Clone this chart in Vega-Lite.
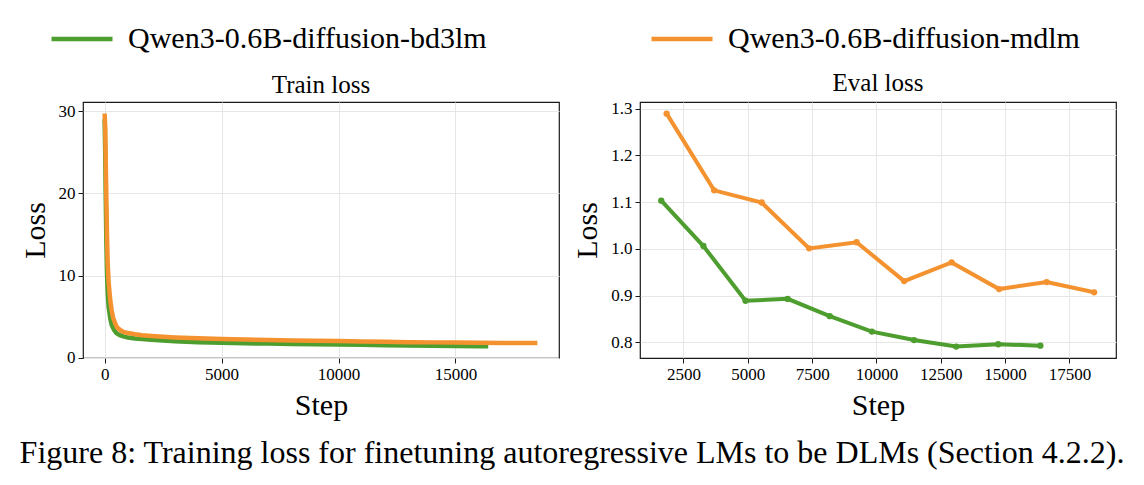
{
  "$schema": "https://vega.github.io/schema/vega-lite/v6.json",
  "background": "white",
  "padding": {"left": 19, "top": 6, "right": 10, "bottom": 10},
  "datasets": {
    "train": [
      {"model": "Qwen3-0.6B-diffusion-bd3lm", "step": 0, "loss": 29.0},
      {"model": "Qwen3-0.6B-diffusion-bd3lm", "step": 25, "loss": 25.0},
      {"model": "Qwen3-0.6B-diffusion-bd3lm", "step": 50, "loss": 19.0},
      {"model": "Qwen3-0.6B-diffusion-bd3lm", "step": 75, "loss": 14.0},
      {"model": "Qwen3-0.6B-diffusion-bd3lm", "step": 100, "loss": 10.5},
      {"model": "Qwen3-0.6B-diffusion-bd3lm", "step": 130, "loss": 8.0},
      {"model": "Qwen3-0.6B-diffusion-bd3lm", "step": 170, "loss": 6.2},
      {"model": "Qwen3-0.6B-diffusion-bd3lm", "step": 240, "loss": 4.8},
      {"model": "Qwen3-0.6B-diffusion-bd3lm", "step": 300, "loss": 4.0},
      {"model": "Qwen3-0.6B-diffusion-bd3lm", "step": 400, "loss": 3.4},
      {"model": "Qwen3-0.6B-diffusion-bd3lm", "step": 500, "loss": 3.0},
      {"model": "Qwen3-0.6B-diffusion-bd3lm", "step": 650, "loss": 2.75},
      {"model": "Qwen3-0.6B-diffusion-bd3lm", "step": 800, "loss": 2.6},
      {"model": "Qwen3-0.6B-diffusion-bd3lm", "step": 1000, "loss": 2.45},
      {"model": "Qwen3-0.6B-diffusion-bd3lm", "step": 1300, "loss": 2.35},
      {"model": "Qwen3-0.6B-diffusion-bd3lm", "step": 1600, "loss": 2.28},
      {"model": "Qwen3-0.6B-diffusion-bd3lm", "step": 2000, "loss": 2.2},
      {"model": "Qwen3-0.6B-diffusion-bd3lm", "step": 2500, "loss": 2.1},
      {"model": "Qwen3-0.6B-diffusion-bd3lm", "step": 3000, "loss": 2.02},
      {"model": "Qwen3-0.6B-diffusion-bd3lm", "step": 4000, "loss": 1.9},
      {"model": "Qwen3-0.6B-diffusion-bd3lm", "step": 5000, "loss": 1.82},
      {"model": "Qwen3-0.6B-diffusion-bd3lm", "step": 6000, "loss": 1.76},
      {"model": "Qwen3-0.6B-diffusion-bd3lm", "step": 7000, "loss": 1.72},
      {"model": "Qwen3-0.6B-diffusion-bd3lm", "step": 8000, "loss": 1.68},
      {"model": "Qwen3-0.6B-diffusion-bd3lm", "step": 9000, "loss": 1.65},
      {"model": "Qwen3-0.6B-diffusion-bd3lm", "step": 10000, "loss": 1.62},
      {"model": "Qwen3-0.6B-diffusion-bd3lm", "step": 11000, "loss": 1.57},
      {"model": "Qwen3-0.6B-diffusion-bd3lm", "step": 12000, "loss": 1.53},
      {"model": "Qwen3-0.6B-diffusion-bd3lm", "step": 13000, "loss": 1.5},
      {"model": "Qwen3-0.6B-diffusion-bd3lm", "step": 14000, "loss": 1.46},
      {"model": "Qwen3-0.6B-diffusion-bd3lm", "step": 15000, "loss": 1.43},
      {"model": "Qwen3-0.6B-diffusion-bd3lm", "step": 16000, "loss": 1.4},
      {"model": "Qwen3-0.6B-diffusion-bd3lm", "step": 16400, "loss": 1.39},
      {"model": "Qwen3-0.6B-diffusion-mdlm", "step": 0, "loss": 29.7},
      {"model": "Qwen3-0.6B-diffusion-mdlm", "step": 25, "loss": 28.0},
      {"model": "Qwen3-0.6B-diffusion-mdlm", "step": 50, "loss": 23.5},
      {"model": "Qwen3-0.6B-diffusion-mdlm", "step": 75, "loss": 19.0},
      {"model": "Qwen3-0.6B-diffusion-mdlm", "step": 100, "loss": 15.0},
      {"model": "Qwen3-0.6B-diffusion-mdlm", "step": 130, "loss": 11.5},
      {"model": "Qwen3-0.6B-diffusion-mdlm", "step": 170, "loss": 9.2},
      {"model": "Qwen3-0.6B-diffusion-mdlm", "step": 240, "loss": 7.0},
      {"model": "Qwen3-0.6B-diffusion-mdlm", "step": 300, "loss": 5.8},
      {"model": "Qwen3-0.6B-diffusion-mdlm", "step": 360, "loss": 4.9},
      {"model": "Qwen3-0.6B-diffusion-mdlm", "step": 450, "loss": 4.2},
      {"model": "Qwen3-0.6B-diffusion-mdlm", "step": 530, "loss": 3.7},
      {"model": "Qwen3-0.6B-diffusion-mdlm", "step": 650, "loss": 3.4},
      {"model": "Qwen3-0.6B-diffusion-mdlm", "step": 800, "loss": 3.15},
      {"model": "Qwen3-0.6B-diffusion-mdlm", "step": 1000, "loss": 3.0},
      {"model": "Qwen3-0.6B-diffusion-mdlm", "step": 1300, "loss": 2.85},
      {"model": "Qwen3-0.6B-diffusion-mdlm", "step": 1600, "loss": 2.75},
      {"model": "Qwen3-0.6B-diffusion-mdlm", "step": 2000, "loss": 2.65},
      {"model": "Qwen3-0.6B-diffusion-mdlm", "step": 2500, "loss": 2.55},
      {"model": "Qwen3-0.6B-diffusion-mdlm", "step": 3000, "loss": 2.47},
      {"model": "Qwen3-0.6B-diffusion-mdlm", "step": 4000, "loss": 2.36},
      {"model": "Qwen3-0.6B-diffusion-mdlm", "step": 5000, "loss": 2.27},
      {"model": "Qwen3-0.6B-diffusion-mdlm", "step": 6000, "loss": 2.21},
      {"model": "Qwen3-0.6B-diffusion-mdlm", "step": 7000, "loss": 2.16},
      {"model": "Qwen3-0.6B-diffusion-mdlm", "step": 8000, "loss": 2.11},
      {"model": "Qwen3-0.6B-diffusion-mdlm", "step": 9000, "loss": 2.07},
      {"model": "Qwen3-0.6B-diffusion-mdlm", "step": 10000, "loss": 2.03},
      {"model": "Qwen3-0.6B-diffusion-mdlm", "step": 11000, "loss": 1.98},
      {"model": "Qwen3-0.6B-diffusion-mdlm", "step": 12000, "loss": 1.94},
      {"model": "Qwen3-0.6B-diffusion-mdlm", "step": 13000, "loss": 1.9},
      {"model": "Qwen3-0.6B-diffusion-mdlm", "step": 14000, "loss": 1.87},
      {"model": "Qwen3-0.6B-diffusion-mdlm", "step": 15000, "loss": 1.84},
      {"model": "Qwen3-0.6B-diffusion-mdlm", "step": 16000, "loss": 1.82},
      {"model": "Qwen3-0.6B-diffusion-mdlm", "step": 17000, "loss": 1.8},
      {"model": "Qwen3-0.6B-diffusion-mdlm", "step": 18000, "loss": 1.79},
      {"model": "Qwen3-0.6B-diffusion-mdlm", "step": 18500, "loss": 1.78}
    ],
    "eval": [
      {"model": "Qwen3-0.6B-diffusion-bd3lm", "step": 1637, "loss": 1.103},
      {"model": "Qwen3-0.6B-diffusion-bd3lm", "step": 3274, "loss": 1.006},
      {"model": "Qwen3-0.6B-diffusion-bd3lm", "step": 4911, "loss": 0.889},
      {"model": "Qwen3-0.6B-diffusion-bd3lm", "step": 6548, "loss": 0.893},
      {"model": "Qwen3-0.6B-diffusion-bd3lm", "step": 8185, "loss": 0.856},
      {"model": "Qwen3-0.6B-diffusion-bd3lm", "step": 9822, "loss": 0.823},
      {"model": "Qwen3-0.6B-diffusion-bd3lm", "step": 11459, "loss": 0.805},
      {"model": "Qwen3-0.6B-diffusion-bd3lm", "step": 13096, "loss": 0.791},
      {"model": "Qwen3-0.6B-diffusion-bd3lm", "step": 14733, "loss": 0.796},
      {"model": "Qwen3-0.6B-diffusion-bd3lm", "step": 16370, "loss": 0.793},
      {"model": "Qwen3-0.6B-diffusion-mdlm", "step": 1846, "loss": 1.289},
      {"model": "Qwen3-0.6B-diffusion-mdlm", "step": 3692, "loss": 1.125},
      {"model": "Qwen3-0.6B-diffusion-mdlm", "step": 5538, "loss": 1.099},
      {"model": "Qwen3-0.6B-diffusion-mdlm", "step": 7384, "loss": 1.001},
      {"model": "Qwen3-0.6B-diffusion-mdlm", "step": 9230, "loss": 1.014},
      {"model": "Qwen3-0.6B-diffusion-mdlm", "step": 11076, "loss": 0.931},
      {"model": "Qwen3-0.6B-diffusion-mdlm", "step": 12922, "loss": 0.971},
      {"model": "Qwen3-0.6B-diffusion-mdlm", "step": 14768, "loss": 0.914},
      {"model": "Qwen3-0.6B-diffusion-mdlm", "step": 16614, "loss": 0.929},
      {"model": "Qwen3-0.6B-diffusion-mdlm", "step": 18460, "loss": 0.907}
    ]
  },
  "title": {
    "text": "Figure 8: Training loss for finetuning autoregressive LMs to be DLMs (Section 4.2.2).",
    "orient": "bottom",
    "anchor": "middle",
    "font": "Liberation Serif",
    "fontSize": 32,
    "fontWeight": "normal",
    "color": "#000000",
    "offset": 17,
    "dx": 4
  },
  "spacing": 12,
  "resolve": {
    "scale": {"color": "shared", "x": "independent", "y": "independent"},
    "legend": {"color": "shared"}
  },
  "hconcat": [
    {
      "title": {"text": "Train loss", "frame": "group"},
      "width": 476,
      "height": 256,
      "data": {"name": "train"},
      "mark": {"type": "line", "strokeWidth": 4.5, "clip": true},
      "encoding": {
        "x": {
          "field": "step", "type": "quantitative",
          "scale": {"domain": [-925, 19425], "nice": false, "zero": false},
          "axis": {"title": "Step", "values": [0, 5000, 10000, 15000], "format": "d"}
        },
        "y": {
          "field": "loss", "type": "quantitative",
          "scale": {"domain": [-0.03, 31.1], "nice": false, "zero": false},
          "axis": {"title": "Loss", "values": [0, 10, 20, 30], "format": "d"}
        },
        "color": {
          "field": "model", "type": "nominal",
          "scale": {"domain": ["Qwen3-0.6B-diffusion-bd3lm", "Qwen3-0.6B-diffusion-mdlm"], "range": ["#4d9e2e", "#f4922f"]},
          "legend": {"title": null, "orient": "none", "legendX": -34, "legendY": -96, "direction": "horizontal", "symbolType": "stroke", "symbolSize": 3721, "symbolStrokeWidth": 4.5, "labelFontSize": 30, "labelFont": "Liberation Serif", "labelColor": "#000000", "labelLimit": 0, "columnPadding": 155, "labelOffset": 13}
        }
      }
    },
    {
      "title": {"text": "Eval loss", "frame": "group"},
      "width": 476,
      "height": 256,
      "data": {"name": "eval"},
      "encoding": {
        "x": {
          "field": "step", "type": "quantitative",
          "scale": {"domain": [810, 19310], "nice": false, "zero": false},
          "axis": {"title": "Step", "values": [2500, 5000, 7500, 10000, 12500, 15000, 17500], "format": "d"}
        },
        "y": {
          "field": "loss", "type": "quantitative",
          "scale": {"domain": [0.7666, 1.3139], "nice": false, "zero": false},
          "axis": {"title": "Loss", "values": [0.8, 0.9, 1.0, 1.1, 1.2, 1.3], "format": ".1f"}
        },
        "color": {
          "field": "model", "type": "nominal",
          "scale": {"domain": ["Qwen3-0.6B-diffusion-bd3lm", "Qwen3-0.6B-diffusion-mdlm"], "range": ["#4d9e2e", "#f4922f"]},
          "legend": {"title": null, "orient": "none", "legendX": -34, "legendY": -96, "direction": "horizontal", "symbolType": "stroke", "symbolSize": 3721, "symbolStrokeWidth": 4.5, "labelFontSize": 30, "labelFont": "Liberation Serif", "labelColor": "#000000", "labelLimit": 0, "columnPadding": 155, "labelOffset": 13}
        }
      },
      "layer": [
        {"mark": {"type": "line", "strokeWidth": 4}},
        {"mark": {"type": "point", "filled": true, "size": 40, "opacity": 1}}
      ]
    }
  ],
  "config": {
    "font": "Liberation Serif",
    "view": {"stroke": "#1a1a1a", "strokeWidth": 1.2},
    "axis": {
      "labelFont": "Liberation Serif",
      "labelFontSize": 17,
      "labelColor": "#000000",
      "titleFont": "Liberation Serif",
      "titleFontSize": 30,
      "titleFontWeight": "normal",
      "titleColor": "#000000",
      "domain": false,
      "tickColor": "#1a1a1a",
      "tickSize": 5,
      "tickWidth": 1,
      "grid": true,
      "gridColor": "#e6e6e6",
      "gridWidth": 1,
      "labelPadding": 3,
      "titlePadding": 8
    },
    "title": {
      "font": "Liberation Serif",
      "fontSize": 25,
      "fontWeight": "normal",
      "color": "#000000",
      "offset": 4
    }
  }
}
